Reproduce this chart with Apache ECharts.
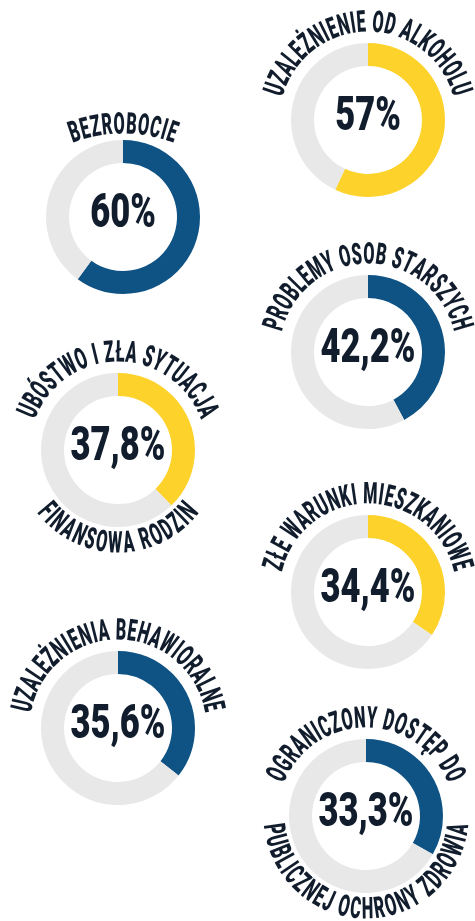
<!DOCTYPE html>
<html>
<head>
<meta charset="utf-8">
<script src="https://cdn.jsdelivr.net/npm/echarts@6/dist/echarts.min.js"></script>
<style>
  html, body { margin: 0; padding: 0; background: #fff; }
  #chart { width: 475px; height: 921px; }
</style>
</head>
<body>
<div id="chart"></div>
<script>
// dane
const titlesTop = ['BEZROBOCIE', 'UZALEŻNIENIE OD ALKOHOLU', 'PROBLEMY OSOB STARSZYCH', 'UBÓSTWO I ZŁA SYTUACJA',
    'ZŁE WARUNKI MIESZKANIOWE', 'UZALEŻNIENIA BEHAWIORALNE', 'OGRANICZONY DOSTĘP DO'];
const titlesBottom = ['', '', '', 'FINANSOWA RODZIN', '', '', 'PUBLICZNEJ OCHRONY ZDROWIA'];
const values = [60, 57, 42.2, 37.8, 34.4, 35.6, 33.3];
const colorKeys = ['blue', 'yellow', 'blue', 'yellow', 'yellow', 'blue', 'blue'];

// uklad
const centers = [[123, 217], [368, 120], [368, 352], [118, 450], [368, 592], [118, 728], [366, 816]];
const palette = { blue: '#0f5284', yellow: '#fdd22a', rest: '#e8e8e8', text: '#111d2c' };
const FONT = 'Roboto';
const WEIGHT = '900';
const TITLE_SIZE = 30;
const TITLE_SX = 0.54;
const VALUE_SIZE = 48;
const VALUE_SX = 0.72;
const SPACING = 1.2;

const ctx = document.createElement('canvas').getContext('2d');
ctx.font = WEIGHT + ' ' + TITLE_SIZE + 'px ' + FONT;

// tekst po luku
function arcText(text, cx, cy, r, bottom) {
    const chars = Array.from(text);
    const widths = chars.map(c => ctx.measureText(c).width * TITLE_SX + SPACING);
    const total = widths.reduce((a, b) => a + b, 0);
    const span = total / r;
    let acc = 0;
    return chars.map((c, i) => {
        const mid = (acc + widths[i] / 2) / r;
        acc += widths[i];
        let theta, rot;
        if (!bottom) {
            theta = -Math.PI / 2 - span / 2 + mid;
            rot = -(theta + Math.PI / 2);
        } else {
            theta = Math.PI / 2 + span / 2 - mid;
            rot = Math.PI / 2 - theta;
        }
        return {
            type: 'text',
            x: cx + r * Math.cos(theta),
            y: cy + r * Math.sin(theta),
            rotation: rot,
            scaleX: TITLE_SX,
            silent: true,
            style: {
                text: c,
                fill: palette.text,
                font: WEIGHT + ' ' + TITLE_SIZE + 'px ' + FONT,
                align: 'center',
                verticalAlign: 'middle'
            }
        };
    });
}

const chart = echarts.init(document.getElementById('chart'), null, { renderer: 'canvas' });

const series = [];
let graphic = [];
values.forEach((v, i) => {
    const c = centers[i];
    series.push({
        type: 'pie',
        silent: true,
        center: c,
        radius: [54, 77],
        startAngle: 90,
        clockwise: true,
        label: { show: false },
        labelLine: { show: false },
        emphasis: { disabled: true },
        animation: false,
        data: [
            { value: v, name: titlesTop[i], itemStyle: { color: palette[colorKeys[i]] } },
            { value: +(100 - v).toFixed(1), name: 'reszta', itemStyle: { color: palette.rest } }
        ]
    });
    // wartosc w srodku
    graphic.push({
        type: 'text',
        x: c[0],
        y: c[1] - 2,
        scaleX: VALUE_SX,
        silent: true,
        style: {
            text: String(v).replace('.', ',') + '%',
            fill: palette.text,
            font: WEIGHT + ' ' + VALUE_SIZE + 'px ' + FONT,
            align: 'center',
            verticalAlign: 'middle'
        }
    });
    if (i === 0) {
        // bezrobocie - bardziej plaski luk
        graphic = graphic.concat(arcText(titlesTop[i], c[0], c[1] + 59, 150, false));
    } else {
        graphic = graphic.concat(arcText(titlesTop[i], c[0], c[1], 96, false));
    }
    if (titlesBottom[i]) {
        graphic = graphic.concat(arcText(titlesBottom[i], c[0], c[1], 95, true));
    }
});

chart.setOption({
    backgroundColor: '#fff',
    animation: false,
    series: series,
    graphic: graphic
});
</script>
</body>
</html>
